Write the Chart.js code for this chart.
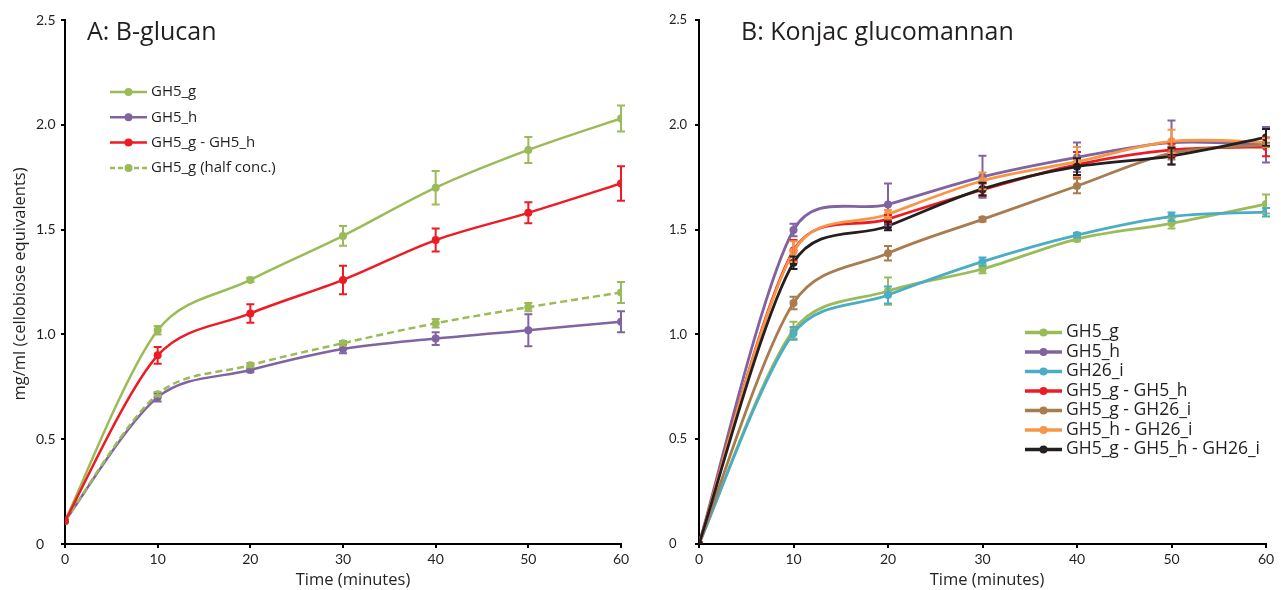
<!DOCTYPE html>
<html>
<head>
<meta charset="utf-8">
<title>Hydrolysis time courses</title>
<script src="https://cdn.jsdelivr.net/npm/chart.js@4.4.1/dist/chart.umd.min.js"></script>
<style>
    body { margin: 0; background: #fff; }
    #wrap { position: relative; width: 1281px; height: 590px; }
    #chartA { position: absolute; left: 0; top: 0; }
    #chartB { position: absolute; left: 640px; top: 0; }
</style>
</head>
<body>
<div id="wrap">
    <canvas id="chartA" width="640" height="590"></canvas>
    <canvas id="chartB" width="641" height="590"></canvas>
</div>
<script>
// time points (minutes)
const minutes = [0, 10, 20, 30, 40, 50, 60];
const yTicks = [0, 0.5, 1.0, 1.5, 2.0, 2.5];

// A: B-glucan
const glucanGH5g = [0.11, 1.02, 1.26, 1.47, 1.70, 1.88, 2.03];
const glucanGH5gErr = [0, 0.02, 0.01, 0.047, 0.08, 0.062, 0.062];
const glucanGH5h = [0.11, 0.70, 0.83, 0.93, 0.98, 1.02, 1.06];
const glucanGH5hErr = [0, 0.02, 0.01, 0.02, 0.03, 0.076, 0.05];
const glucanGH5gh = [0.11, 0.90, 1.10, 1.26, 1.45, 1.58, 1.72];
const glucanGH5ghErr = [0, 0.04, 0.044, 0.068, 0.055, 0.05, 0.082];
const glucanHalf = [0.11, 0.715, 0.853, 0.958, 1.053, 1.13, 1.20];
const glucanHalfErr = [0, 0.01, 0.01, 0.01, 0.02, 0.02, 0.05];

// B: Konjac glucomannan
const konjacGH5g = [0, 1.02, 1.207, 1.312, 1.455, 1.53, 1.622];
const konjacGH5gErr = [0, 0.04, 0.065, 0.02, 0.01, 0.025, 0.045];
const konjacGH5h = [0, 1.498, 1.62, 1.752, 1.845, 1.915, 1.905];
const konjacGH5hErr = [0, 0.03, 0.10, 0.10, 0.07, 0.105, 0.085];
const konjacGH26i = [0, 1.005, 1.188, 1.347, 1.474, 1.562, 1.583];
const konjacGH26iErr = [0, 0.03, 0.04, 0.02, 0.01, 0.02, 0.02];
const konjacGH5gh = [0, 1.40, 1.55, 1.69, 1.81, 1.88, 1.895];
const konjacGH5ghErr = [0, 0.05, 0.02, 0.03, 0.06, 0.03, 0.045];
const konjacGH5gi = [0, 1.15, 1.387, 1.549, 1.708, 1.865, 1.904];
const konjacGH5giErr = [0, 0.03, 0.035, 0.01, 0.035, 0.03, 0.01];
const konjacGH5hi = [0, 1.395, 1.573, 1.733, 1.824, 1.921, 1.916];
const konjacGH5hiErr = [0, 0.05, 0.02, 0.04, 0.07, 0.055, 0.02];
const konjacAll = [0, 1.342, 1.517, 1.694, 1.80, 1.851, 1.94];
const konjacAllErr = [0, 0.03, 0.02, 0.03, 0.04, 0.04, 0.04];

const GREEN = '#9bbb59', PURPLE = '#8064a2', RED = '#ed1c24', CYAN = '#4bacc6',
      BROWN = '#a97c50', ORANGE = '#f79646', BLACK = '#231f20';
const TICK_FONT = 'Lato, sans-serif';
const TEXT_FONT = '"Open Sans", sans-serif';

function series(label, values, errors, color, width, order, dash) {
    return {
        label: label,
        data: values.map((v, i) => ({ x: minutes[i], y: v })),
        errors: errors,
        order: order,
        borderColor: color,
        backgroundColor: color,
        borderWidth: width,
        borderDash: dash || [],
        pointRadius: 4,
        pointHoverRadius: 4,
        pointBorderWidth: 0,
        pointBackgroundColor: color,
        tension: 0.4,
        fill: false
    };
}

// Excel-like smoothing: Catmull-Rom control points (1/6 of neighbour chord),
// shortened on the side of the shorter segment to limit overshoot
const excelSmooth = {
    id: 'excelSmooth',
    beforeDatasetDraw(chart, args) {
        const meta = args.meta;
        meta.dataset.updateControlPoints(chart.chartArea);
        const pts = meta.data;
        for (let i = 0; i < pts.length; i++) {
            const p = pts[i];
            const prev = pts[Math.max(i - 1, 0)];
            const next = pts[Math.min(i + 1, pts.length - 1)];
            const dPrev = Math.hypot(p.x - prev.x, p.y - prev.y);
            const dNext = Math.hypot(next.x - p.x, next.y - p.y);
            const sum = dPrev + dNext || 1;
            const kPrev = Math.min(1, Math.sqrt(2 * dPrev / sum)) / 6;
            const kNext = Math.min(1, Math.sqrt(2 * dNext / sum)) / 6;
            const tx = next.x - prev.x, ty = next.y - prev.y;
            p.cp1x = p.x - tx * kPrev; p.cp1y = p.y - ty * kPrev;
            p.cp2x = p.x + tx * kNext; p.cp2y = p.y + ty * kNext;
        }
    }
};

// vertical error bars with caps
const errorBars = {
    id: 'errorBars',
    afterDatasetsDraw(chart) {
        const ctx = chart.ctx;
        const yScale = chart.scales.y;
        chart.data.datasets.forEach((ds, i) => {
            if (!ds.errors) return;
            const meta = chart.getDatasetMeta(i);
            ctx.save();
            ctx.strokeStyle = ds.borderColor;
            ctx.lineWidth = 2;
            meta.data.forEach((pt, j) => {
                const e = ds.errors[j];
                if (!e) return;
                const v = ds.data[j].y;
                const top = yScale.getPixelForValue(v + e);
                const bot = yScale.getPixelForValue(v - e);
                ctx.beginPath();
                ctx.moveTo(pt.x, top); ctx.lineTo(pt.x, bot);
                ctx.moveTo(pt.x - 4, top); ctx.lineTo(pt.x + 4, top);
                ctx.moveTo(pt.x - 4, bot); ctx.lineTo(pt.x + 4, bot);
                ctx.stroke();
            });
            ctx.restore();
        });
    }
};

// panel title, in-plot legend and axis titles
const decor = {
    id: 'decor',
    afterDraw(chart, args, o) {
        const ctx = chart.ctx;
        ctx.save();
        ctx.fillStyle = '#231f20';
        ctx.textBaseline = 'alphabetic';
        ctx.textAlign = 'left';
        ctx.font = o.titleFont;
        ctx.fillText(o.title, o.titleX, o.titleY);

        chart.data.datasets.forEach((ds, i) => {
            const y = o.legendY + i * o.legendGap;
            ctx.strokeStyle = ds.borderColor;
            ctx.lineWidth = o.legendLine;
            ctx.setLineDash(ds.borderDash.length ? [5, 3] : []);
            ctx.beginPath();
            ctx.moveTo(o.legendX, y);
            ctx.lineTo(o.legendX + o.legendLen, y);
            ctx.stroke();
            ctx.setLineDash([]);
            ctx.fillStyle = ds.borderColor;
            ctx.beginPath();
            ctx.arc(o.legendX + o.legendLen / 2, y, 4, 0, Math.PI * 2);
            ctx.fill();
            ctx.fillStyle = '#231f20';
            ctx.font = o.legendFont;
            ctx.textBaseline = 'middle';
            ctx.fillText(ds.label, o.legendX + o.legendLen + 4, y);
        });

        ctx.font = '16.5px ' + TEXT_FONT;
        ctx.textAlign = 'center';
        ctx.textBaseline = 'middle';
        ctx.fillText('Time (minutes)', o.xTitleX, 580);
        if (o.yTitle) {
            ctx.translate(20, 284);
            ctx.rotate(-Math.PI / 2);
            ctx.fillText(o.yTitle, 0, 0);
        }
        ctx.restore();
    }
};

function scalesFor(yWidth, yFontSize) {
    return {
        x: {
            type: 'linear', min: 0, max: 60,
            afterFit: s => { s.height = 46; },
            ticks: { stepSize: 10, color: '#231f20', font: { family: TICK_FONT, size: 14 }, padding: 3, maxRotation: 0 },
            grid: { drawOnChartArea: false, drawTicks: true, tickLength: 4, color: '#000', lineWidth: 2 },
            border: { display: true, color: '#000', width: 2 }
        },
        y: {
            min: 0, max: 2.5,
            afterFit: s => { s.width = yWidth; },
            afterBuildTicks: s => { s.ticks = yTicks.map(v => ({ value: v })); },
            ticks: {
                color: '#231f20', crossAlign: 'far',
                font: { family: TICK_FONT, size: yFontSize },
                callback: v => (v === 0 ? '0' : v.toFixed(1))
            },
            grid: { drawOnChartArea: false, drawTicks: true, tickLength: 4, color: '#000', lineWidth: 2 },
            border: { display: true, color: '#000', width: 2 }
        }
    };
}

new Chart(document.getElementById('chartA'), {
    type: 'line',
    data: {
        datasets: [
            series('GH5_g', glucanGH5g, glucanGH5gErr, GREEN, 2.5, 3),
            series('GH5_h', glucanGH5h, glucanGH5hErr, PURPLE, 2.5, 4),
            series('GH5_g - GH5_h', glucanGH5gh, glucanGH5ghErr, RED, 2.5, 1),
            series('GH5_g (half conc.)', glucanHalf, glucanHalfErr, GREEN, 2.5, 2, [7, 4])
        ]
    },
    options: {
        responsive: false,
        animation: false,
        layout: { padding: { top: 20, right: 19, left: 36, bottom: 0 } },
        scales: scalesFor(29, 14),
        plugins: {
            legend: { display: false },
            tooltip: { enabled: false },
            decor: {
                title: 'A: B-glucan', titleFont: '25px ' + TEXT_FONT, titleX: 87, titleY: 40,
                legendX: 110, legendY: 92, legendGap: 25.3, legendLen: 37, legendLine: 2.5,
                legendFont: '15px ' + TEXT_FONT,
                xTitleX: 353, yTitle: 'mg/ml (cellobiose equivalents)'
            }
        }
    },
    plugins: [excelSmooth, errorBars, decor]
});

new Chart(document.getElementById('chartB'), {
    type: 'line',
    data: {
        datasets: [
            series('GH5_g', konjacGH5g, konjacGH5gErr, GREEN, 2.8, 7),
            series('GH5_h', konjacGH5h, konjacGH5hErr, PURPLE, 2.8, 6),
            series('GH26_i', konjacGH26i, konjacGH26iErr, CYAN, 2.8, 5),
            series('GH5_g - GH5_h', konjacGH5gh, konjacGH5ghErr, RED, 2.8, 4),
            series('GH5_g - GH26_i', konjacGH5gi, konjacGH5giErr, BROWN, 2.8, 3),
            series('GH5_h - GH26_i', konjacGH5hi, konjacGH5hiErr, ORANGE, 2.8, 2),
            series('GH5_g - GH5_h - GH26_i', konjacAll, konjacAllErr, BLACK, 2.8, 1)
        ]
    },
    options: {
        responsive: false,
        animation: false,
        layout: { padding: { top: 20, right: 15, left: 29, bottom: 0 } },
        scales: scalesFor(30, 13),
        plugins: {
            legend: { display: false },
            tooltip: { enabled: false },
            decor: {
                title: 'B: Konjac glucomannan', titleFont: '25px ' + TEXT_FONT, titleX: 101, titleY: 40,
                legendX: 385, legendY: 332.5, legendGap: 19.5, legendLen: 37, legendLine: 3.5,
                legendFont: '17.5px ' + TEXT_FONT,
                xTitleX: 347, yTitle: null
            }
        }
    },
    plugins: [excelSmooth, errorBars, decor]
});
</script>
</body>
</html>
